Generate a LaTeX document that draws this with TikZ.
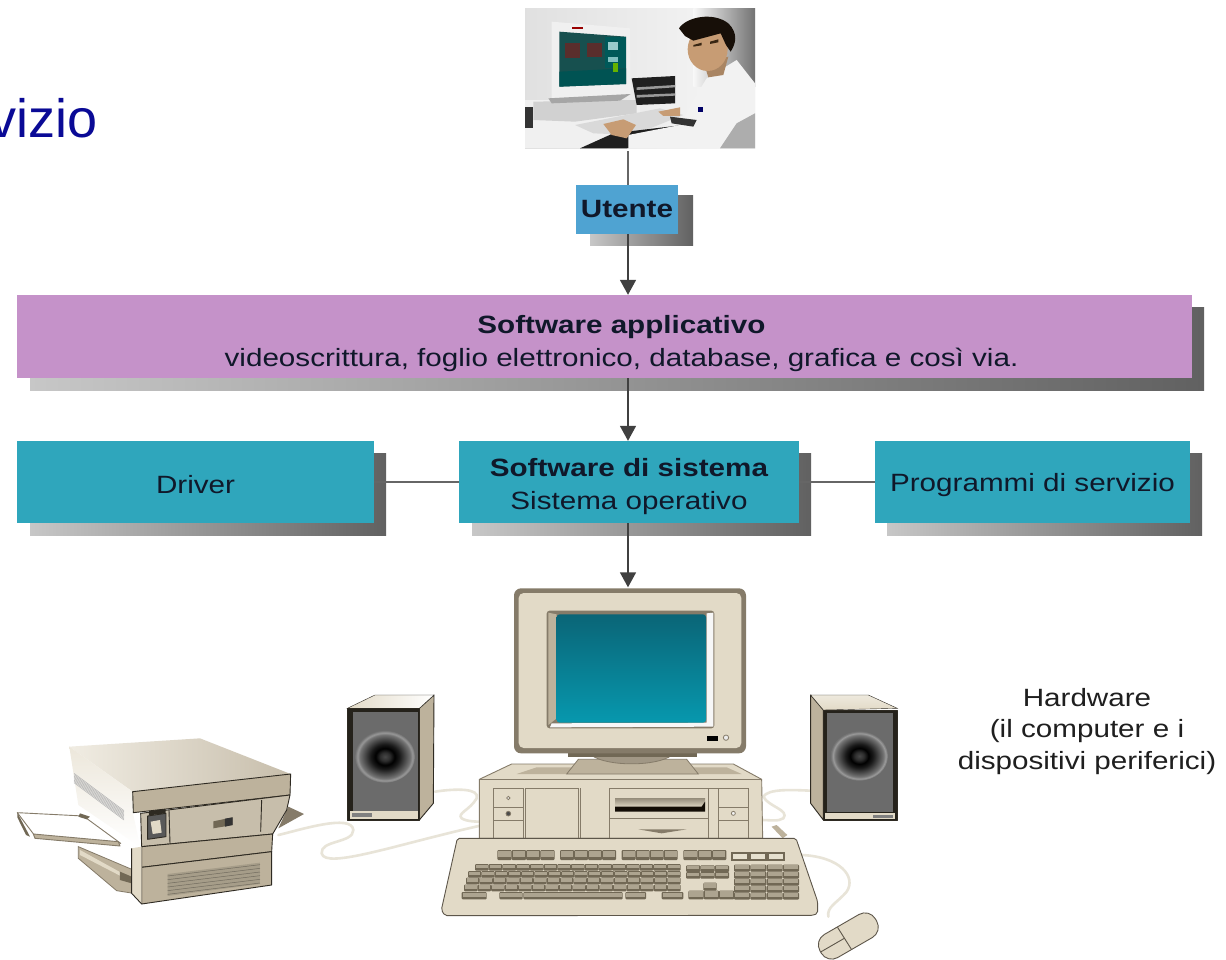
\documentclass[tikz,border=0pt]{standalone}
\usepackage{fontspec}
\setmainfont[FakeStretch=1.185]{Liberation Sans}
\newfontfamily\titlefont{Liberation Sans}
\usetikzlibrary{arrows.meta,shapes.geometric}
\definecolor{utc}{HTML}{4FA3D2}
\definecolor{appc}{HTML}{C592C9}
\definecolor{teal1}{HTML}{2FA6BC}
\definecolor{beige}{HTML}{E2DAC7}
\definecolor{beiged}{HTML}{BDB29C}
\definecolor{rim}{HTML}{857B69}
\definecolor{keyd}{HTML}{716855}
\definecolor{keyl}{HTML}{ADA490}
\definecolor{cablec}{HTML}{E8E4D8}
\definecolor{inkc}{HTML}{2E2A22}
\definecolor{textc}{HTML}{10182A}
\definecolor{navy}{HTML}{0A0A96}
\definecolor{scrtop}{HTML}{0A6577}
\definecolor{scrmid}{HTML}{057F93}
\definecolor{scrbot}{HTML}{0798AE}
\definecolor{skin}{HTML}{C79C74}
\definecolor{photoscr}{HTML}{17504F}
\definecolor{photored}{HTML}{5A2E2C}
\pgfdeclareradialshading{spkshade}{\pgfpoint{0bp}{0bp}}{
  color(0bp)=(black!72!white);
  color(4bp)=(black!82!white);
  color(8bp)=(black);
  color(12bp)=(black!90!white);
  color(21bp)=(black!55!white);
  color(23bp)=(black!40!white);
  color(25bp)=(black!56!white);
  color(100bp)=(black!56!white)}
\tikzset{
  flowbox/.style={draw=none,inner sep=0pt,align=center,text=textc,font=\fontsize{25}{33}\selectfont},
  boxshadow/.style={left color=black!22,right color=black!62,draw=none},
  arrowline/.style={draw=black!75,line width=1.6pt,-{Triangle[width=16pt,length=15pt]}},
  plainline/.style={draw=black!60,line width=1.5pt},
  ink/.style={draw=inkc,line width=0.9pt,line join=round},
  cable/.style={draw=cablec,line width=2.6pt,line cap=round},
  softline/.style={draw=rim,line width=0.8pt}
}
\newcommand{\kbkey}[4]{%
  \fill[keyd,rounded corners=1pt] ({#1},{#2}) rectangle ({#1+#3},{#2+#4});
  \fill[keyl] ({#1+3},{#2+2}) rectangle ({#1+#3-3},{#2+#4-8});
}
\begin{document}
\begin{tikzpicture}[x=1pt,y=-1pt]
\useasboundingbox (0,0) rectangle (1226,960);
\fill[white] (0,0) rectangle (1226,960);

% ---------- title fragment
\node[anchor=base west,inner sep=0pt,text=navy,font=\titlefont\fontsize{54}{60}\selectfont] (title) at (-10.6,138) {vizio};

% ---------- photo
\begin{scope}[shift={(480,0)},scale=1/3]
  \shade[left color=black!12,right color=black!3] (135,27) rectangle (825,445);
  \shade[left color=black!3,right color=black!55] (640,27) rectangle (825,260);
  % desk and computer
  \fill[black!6] (135,300) rectangle (480,445);
  \fill[black!80] (135,320) rectangle (160,385);
  \fill[black!18] (160,305) -- (470,300) -- (470,340) -- (285,365) -- (160,360) -- cycle;
  \fill[black!6] (215,65) -- (450,85) -- (452,282) -- (215,295) -- cycle;
  \fill[black!35] (205,295) -- (452,282) -- (420,302) -- (215,310) -- cycle;
  \fill[photoscr] (238,95) -- (438,110) -- (438,252) -- (238,260) -- cycle;
  \fill[teal!65!black] (238,215) -- (438,205) -- (438,252) -- (238,260) -- cycle;
  \fill[teal!70!black] (375,110) rectangle (438,205);
  \fill[photored] (255,130) rectangle (300,175);
  \fill[photored] (320,130) rectangle (365,170);
  \fill[teal!40!white] (385,125) rectangle (415,150);
  \fill[teal!50!white] (385,170) rectangle (415,185);
  \fill[green!50!black!60!yellow] (398,190) rectangle (415,215);
  \fill[red!60!black] (275,80) rectangle (310,88);
  % trays
  \fill[black!88] (455,235) -- (585,228) -- (585,310) -- (470,315) -- cycle;
  \fill[black!40] (470,262) -- (585,255) -- (585,262) -- (470,270) -- cycle;
  \fill[black!40] (470,285) -- (585,280) -- (585,287) -- (470,293) -- cycle;
  % keyboard
  \fill[black!15] (285,375) -- (540,325) -- (610,345) -- (460,405) -- (340,400) -- cycle;
  \fill[black!88] (300,445) -- (400,400) -- (440,395) -- (610,375) -- (610,410) -- (440,445) -- cycle;
  % coat
  \fill[black!5] (445,445) -- (445,405) -- (600,375) -- (640,300) -- (680,235) -- (770,180) -- (825,250) -- (825,445) -- cycle;
  \fill[black!32] (720,445) -- (770,370) -- (825,340) -- (825,445) -- cycle;
  \fill[black!80] (570,350) -- (650,360) -- (640,380) -- (575,370) -- cycle;
  \fill[blue!40!black] (655,320) rectangle (670,335);
  % hands and head
  \fill[skin] (370,372) -- (430,358) -- (468,375) -- (440,415) -- (395,405) -- cycle;
  \fill[skin] (535,335) -- (600,322) -- (600,348) -- (550,348) -- cycle;
  \fill[skin!85!black] (672,190) -- (745,170) -- (730,225) -- (685,232) -- cycle;
  \fill[skin] (683,148) ellipse (60 and 65);
  \fill[black!88!brown] (597,85) .. controls (620,50) and (700,35) .. (745,70) .. controls (775,100) and (768,130) .. (752,155) -- (738,135) -- (722,100) -- (640,122) -- (615,108) -- cycle;
  \fill[black!70!brown] (640,135) -- (665,128) -- (665,136) -- (640,140) -- cycle;
  \fill[black!70!brown] (690,125) -- (715,118) -- (715,127) -- (690,132) -- cycle;
\end{scope}
\node[inner sep=0pt,minimum width=224pt,minimum height=139pt] (photo) at (643,78.5) {};

% ---------- shadows
\shade[boxshadow] (590,196) rectangle (693,245);
\shade[boxshadow] (30,307) rectangle (1204,390);
\shade[boxshadow] (30,453) rectangle (386,535);
\shade[boxshadow] (472,453) rectangle (811,535);
\shade[boxshadow] (887,453) rectangle (1202,535);

% ---------- boxes
\node[flowbox,fill=utc,minimum width=102pt,minimum height=49pt,font=\bfseries\fontsize{25}{32}\selectfont] (ut) at (627,209.5) {Utente};
\node[flowbox,fill=appc,minimum width=1175pt,minimum height=83pt] (app) at (604.5,336.5)
  {\hspace*{34pt}\rule{0pt}{32pt}\textbf{Software applicativo}\\\hspace*{34pt}videoscrittura, foglio elettronico, database, grafica e così via.};
\node[flowbox,fill=teal1,minimum width=357pt,minimum height=82pt] (drv) at (195.5,482) {\rule{0pt}{23pt}Driver};
\node[flowbox,fill=teal1,minimum width=340pt,minimum height=82pt] (sys) at (629,482)
  {\rule{0pt}{28pt}\textbf{Software di sistema}\\Sistema operativo};
\node[flowbox,fill=teal1,minimum width=315pt,minimum height=82pt] (prg) at (1032.5,482) {\rule{0pt}{24.5pt}Programmi di servizio};
\node[inner sep=0pt,minimum width=232pt,minimum height=165pt] (mon) at (628,670) {};

% ---------- connectors
\draw[plainline] (photo.south -| ut.north) ++(1,3) coordinate (pa) -- (pa |- ut.north);
\draw[arrowline] (pa |- ut.south) -- (pa |- app.north);
\draw[arrowline] (pa |- app.south) -- (pa |- sys.north);
\draw[arrowline] (pa |- sys.south) -- (pa |- mon.north);
\draw[plainline] (drv.east) -- (sys.west);
\draw[plainline] (sys.east) -- (prg.west);

% ---------- cables (behind hardware)
\begin{scope}[shift={(0,680)},scale=1/3]
  \draw[cable] (835,465) .. controls (900,450) and (1055,400) .. (1060,450)
     .. controls (1060,490) and (960,480) .. (965,520)
     .. controls (975,570) and (1200,490) .. (1450,435);
  \draw[cable] (1305,335) .. controls (1370,325) and (1440,325) .. (1430,355)
     .. controls (1410,390) and (1370,400) .. (1385,415)
     .. controls (1400,425) and (1430,425) .. (1450,425);
\end{scope}
\begin{scope}[shift={(440,570)},scale=1/3]
  \draw[cable] (970,680) .. controls (985,655) and (1060,660) .. (1112,662);
  \draw[cable] (970,680) .. controls (985,710) and (1050,720) .. (1030,745)
     .. controls (1015,755) and (990,750) .. (965,750);
  \draw[cable] (1085,855) .. controls (1200,860) and (1250,920) .. (1220,965)
     .. controls (1190,1000) and (1160,1010) .. (1165,1040);
\end{scope}

% ---------- computer
\begin{scope}[shift={(440,570)},scale=1/3]
  % case
  \draw[ink,draw=rim,fill=beige] (118,628) -- (215,582) -- (880,582) -- (965,628) -- (968,805) -- (118,805) -- cycle;
  \fill[beiged] (230,612) -- (290,592) -- (415,592) -- (380,612) -- cycle;
  \fill[beiged] (775,612) -- (745,592) -- (860,592) -- (905,612) -- cycle;
  \draw[softline] (118,628) -- (965,628);
  \draw[softline] (160,655) rectangle (250,805);
  \draw[softline] (160,712) -- (250,712) (160,752) -- (250,752);
  \draw[softline,fill=black!5] (205,684) circle (5);
  \draw[softline,fill=black!70] (205,731) circle (7);
  \draw[softline] (255,655) rectangle (415,805);
  \draw[softline] (420,655) -- (420,805) (508,655) -- (508,805);
  \draw[softline] (510,655) -- (925,655) -- (925,805);
  \draw[softline] (805,655) -- (805,805) (835,655) -- (835,805);
  \draw[softline] (835,712) -- (925,712) (835,752) -- (925,752);
  \draw[softline,fill=black!5] (880,730) circle (6);
  \draw[softline] (510,745) -- (805,745);
  \shade[top color=beiged!80!black,bottom color=beige] (525,685) rectangle (795,712);
  \fill[black!90!brown] (525,710) -- (785,710) -- (795,695) -- (795,725) -- (525,725) -- cycle;
  \fill[rim] (595,778) -- (740,778) -- (665,790) -- cycle;
  % stand
  \draw[softline,fill=beiged] (380,612) -- (415,568) -- (740,568) -- (775,612) -- cycle;
  \draw[softline,fill=beiged!85!black] (455,556) .. controls (500,590) and (650,590) .. (695,556) -- cycle;
  \fill[keyd] (385,545) rectangle (770,560);
  % monitor
  \fill[rim,rounded corners=7pt] (222,55) rectangle (918,550);
  \fill[beige,rounded corners=5pt] (236,69) rectangle (904,534);
  \fill[rim,rounded corners=3pt] (320,122) rectangle (823,475);
  \fill[black!3] (335,460) -- (800,458) -- (800,130) -- (820,128) -- (820,470) -- (330,472) -- cycle;
  \fill[beiged] (325,128) -- (350,133) -- (350,445) -- (325,465) -- cycle;
  \shade[top color=scrtop,middle color=scrmid,bottom color=scrbot,rounded corners=3pt] (350,133) rectangle (798,458);
  \fill[black] (800,498) rectangle (833,512);
  \draw[softline,fill=black!8] (858,503) circle (8);
  % plug
  \fill[beiged] (995,770) -- (1010,765) -- (1042,795) -- (1028,805) -- cycle;
  % keyboard
  \draw[ink,draw=rim!70!black,fill=beige,rounded corners=2pt] (52,805) -- (1068,805) -- (1133,995) -- (1133,1030) -- (1120,1036) -- (15,1037) -- (4,1020) -- cycle;
  % function keys
  \foreach \xs/\n/\gw in {172/4/43,360/4/42,545/4/42,730/3/43}{
    \foreach \i in {1,...,\n}{ \kbkey{\xs+(\i-1)*\gw}{840}{\gw}{30} }
  }
  \foreach \i in {0,1,2}{
    \fill[keyd] ({872+\i*55},846) rectangle ({872+\i*55+54},872);
    \fill[beige!85!white] ({878+\i*55},851) rectangle ({872+\i*55+48},866);
  }
  % main block
  \foreach \yy/\xs/\n in {882/105/15,903/84/16,923/78/16,944/72/16}{
    \foreach \i in {1,...,\n}{ \kbkey{\xs+(\i-1)*(722-\xs)/\n}{\yy}{(722-\xs)/\n}{20} }
  }
  \kbkey{65}{966}{75}{22}
  \kbkey{178}{966}{70}{22}
  \kbkey{250}{966}{298}{22}
  \kbkey{556}{966}{62}{22}
  \kbkey{665}{966}{65}{22}
  % nav cluster
  \foreach \i in {0,1,2}{ \kbkey{738+\i*43}{886}{43}{20} \kbkey{738+\i*43}{906}{43}{20} }
  \kbkey{790}{938}{40}{24}
  \foreach \i in {0,1,2}{ \kbkey{745+\i*46}{962}{46}{26} }
  % numpad
  \foreach \yy in {884,905,926,947,968}{
    \foreach \i in {0,1,2,3}{ \kbkey{882+\i*49}{\yy}{48}{21} }
  }
  % mouse
  \begin{scope}[shift={(1225,1098)},rotate=30]
    \draw[ink,draw=rim!70!black,fill=beige,rounded corners=12pt] (-96,-40) rectangle (96,40);
    \draw[ink,draw=rim!70!black] (-15,-39) -- (-12,39);
    \draw[ink,draw=rim!70!black] (-94,0) -- (-13,0);
  \end{scope}
  % right speaker
  \draw[ink,fill=beiged] (1112,375) -- (1150,420) -- (1150,750) -- (1112,700) -- cycle;
  \shade[top color=beige!60!white,bottom color=beige,draw=inkc] (1112,375) -- (1285,375) -- (1372,415) -- (1150,420) -- cycle;
  \draw[ink,fill=inkc!80!black] (1150,420) rectangle (1372,750);
  \fill[black!58] (1162,428) rectangle (1358,725);
  \shade[shading=spkshade] (1258,558) ellipse (86 and 74);
  \fill[beige] (1155,728) rectangle (1365,748);
  \fill[black!50] (1298,734) rectangle (1360,744);
\end{scope}

% ---------- printer and left speaker
\begin{scope}[shift={(0,680)},scale=1/3]
  % left speaker
  \draw[ink,fill=beiged] (1258,85) -- (1302,45) -- (1300,370) -- (1258,420) -- cycle;
  \shade[left color=beige,right color=white,draw=inkc] (1042,85) -- (1125,45) -- (1302,45) -- (1258,85) -- cycle;
  \draw[ink,fill=inkc!80!black] (1042,85) rectangle (1258,420);
  \fill[black!58] (1058,96) rectangle (1255,392);
  \shade[shading=spkshade] (1155,230) ellipse (90 and 78);
  \fill[beige] (1050,394) rectangle (1253,416);
  \fill[black!50] (1055,400) rectangle (1115,412);
  % rear trays
  \draw[softline,fill=beiged] (235,500) -- (400,570) -- (400,640) -- (350,632) -- (235,535) -- cycle;
  \fill[beige] (240,510) -- (385,590) -- (385,600) -- (240,525) -- cycle;
  \fill[keyd] (360,575) -- (395,590) -- (395,610) -- (360,600) -- cycle;
  % right tab
  \fill[rim] (865,380) -- (912,402) -- (835,445) -- cycle;
  % top and side
  \shade[left color=beige!50!white,right color=beiged!85!white] (208,200) -- (600,175) -- (872,282) -- (398,335) -- cycle;
  \shade[top color=beige!65!white,bottom color=white] (208,200) -- (398,335) -- (398,395) -- (420,500) -- (235,375) -- cycle;
  \foreach \t in {0,...,7}{
    \draw[black!28,line width=0.6pt] (222,{280+\t*4}) -- (372,{392+\t*4});
  }
  % paper tray
  \draw[ink,draw=rim,fill=white] (52,398) -- (250,408) -- (362,490) -- (105,468) -- cycle;
  \draw[ink,draw=rim,fill=beiged] (100,462) -- (355,485) -- (360,498) -- (105,475) -- cycle;
  \fill[keyd] (52,398) -- (90,470) -- (78,465) -- (52,412) -- cycle;
  \fill[keyd] (240,400) -- (270,410) -- (260,418) -- (235,410) -- cycle;
  % body
  \draw[ink,fill=beiged] (398,335) -- (872,282) -- (870,345) -- (400,398) -- cycle;
  \draw[ink,fill=beiged!85!white] (422,400) -- (870,345) -- (860,390) -- (818,462) -- (425,500) -- cycle;
  \draw[ink] (785,360) -- (782,455);
  \draw[ink] (507,390) -- (510,490);
  \draw[ink,fill=black!65] (443,408) -- (498,400) -- (498,470) -- (443,478) -- cycle;
  \fill[beige] (452,425) -- (480,420) -- (485,458) -- (458,462) -- cycle;
  \fill[inkc] (447,393) -- (497,387) -- (497,400) -- (447,406) -- cycle;
  \fill[keyd] (640,424) -- (698,412) -- (698,435) -- (640,445) -- cycle;
  \fill[black!80] (675,416) -- (698,412) -- (698,435) -- (675,440) -- cycle;
  \draw[ink,fill=beiged] (425,500) -- (818,462) -- (815,515) -- (425,562) -- cycle;
  \draw[ink,fill=beiged] (425,562) -- (815,515) -- (815,615) -- (425,672) -- cycle;
  \fill[beige] (395,505) -- (425,500) -- (425,672) -- (395,640) -- cycle;
  \draw[ink] (395,505) -- (395,640) -- (425,672);
  \fill[beiged!88!black] (503,582) -- (780,548) -- (780,612) -- (503,648) -- cycle;
  \foreach \t in {0,...,5}{
    \draw[beiged!60!black,line width=0.5pt] (503,{588+\t*11}) -- (780,{554+\t*11});
  }
\end{scope}

% ---------- hardware label
\node[inner sep=0pt,align=center,text=black!88,font=\fontsize{25}{31.5}\selectfont] (hw) at (1087,731.5) {Hardware\\(il computer e i\\dispositivi periferici)};
\end{tikzpicture}
\end{document}
